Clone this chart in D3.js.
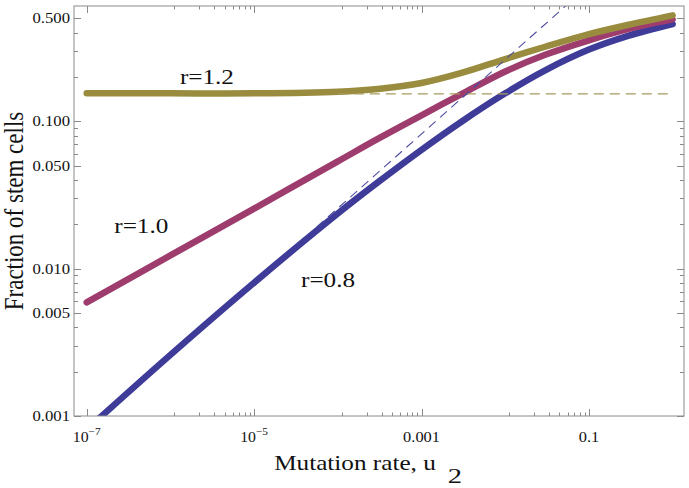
<!DOCTYPE html>
<html><head><meta charset="utf-8">
<script src="https://cdn.jsdelivr.net/npm/d3@7"></script>
<style>
html,body{margin:0;padding:0;background:#fff;}
text{font-family:"Liberation Serif","Times New Roman",Times,serif;fill:#111;}
</style></head>
<body><svg id="c" width="689" height="488"></svg>
<script>
// ---- data ----
const uVals = [1e-7, 1e-6, 1e-5, 1e-4, 3e-4, 1e-3, 3e-3, 1e-2, 3e-2, 0.1, 0.3, 1];
const r12 = [0.155, 0.155, 0.155, 0.159, 0.166, 0.182, 0.213, 0.265, 0.321, 0.391, 0.453, 0.524];
const r10 = [0.0059, 0.0123, 0.0256, 0.0535, 0.076, 0.110, 0.153, 0.218, 0.283, 0.355, 0.424, 0.492];
const r08 = [0.00081, 0.0026, 0.00804, 0.0237, 0.0385, 0.0641, 0.0995, 0.155, 0.222, 0.307, 0.382, 0.458];
const asymBlueU = [5.6e-5, 0.08];
const asymBlueF = [0.0192, 0.75];
const asymGoldU = [1.0e-4, 1];
const asymGoldF = [0.1535, 0.1535];
const seriesNames = ["r=0.8", "r=1.0", "r=1.2"];
const labelPosU = [7.64e-5, 4.49e-7, 2.73e-6];
const labelPosF = [0.00755, 0.0174, 0.179];
const xMajor = [1e-7, 1e-5, 1e-3, 0.1];
const xMajorLabels = [["10","−7"], ["10","−5"], ["0.001",""], ["0.1",""]];
const yMajor = [0.001, 0.005, 0.01, 0.05, 0.1, 0.5];
const yMajorLabels = ["0.001", "0.005", "0.010", "0.050", "0.100", "0.500"];
const xTitle = "Mutation rate, u";
const xTitleSub = "2";
const yTitle = "Fraction of stem cells";

// ---- layout ----
const L = 74, R = 684, T = 6, B = 416;
const svg = d3.select("#c");
const x = d3.scaleLog().domain([7.05e-8, 1.367]).range([L, R]);
const y = d3.scaleLog().domain([0.001, 0.607]).range([B, T]);
const colors = ["#3e3c98", "#9e3c6e", "#998c3e"];
const dashColors = ["#4c4ca0", "#a89a5c"];

svg.append("clipPath").attr("id", "clip").append("rect")
  .attr("x", L).attr("y", T).attr("width", R - L).attr("height", B - T);

const plot = svg.append("g").attr("clip-path", "url(#clip)");
const line = d3.line().x(d => x(d[0])).y(d => y(d[1])).curve(d3.curveCatmullRom.alpha(0.5));

[r08, r10, r12].forEach((vals, i) => {
  plot.append("path").datum(uVals.map((u, k) => [u, vals[k]]))
    .attr("d", line).attr("fill", "none").attr("stroke", colors[i])
    .attr("stroke-width", 6.5).attr("stroke-linecap", "round").attr("stroke-linejoin", "round");
});

plot.append("path").datum(asymGoldU.map((u, k) => [u, asymGoldF[k]]))
  .attr("d", d3.line().x(d => x(d[0])).y(d => y(d[1])))
  .attr("fill", "none").attr("stroke", dashColors[1]).attr("stroke-width", 1.2)
  .attr("stroke-dasharray", "10,6");
plot.append("path").datum(asymBlueU.map((u, k) => [u, asymBlueF[k]]))
  .attr("d", d3.line().x(d => x(d[0])).y(d => y(d[1])))
  .attr("fill", "none").attr("stroke", dashColors[0]).attr("stroke-width", 1.1)
  .attr("stroke-dasharray", "9,6");

// ---- frame & ticks ----
const frameCol = "#8a8a8a";
svg.append("rect").attr("x", L).attr("y", T).attr("width", R - L).attr("height", B - T)
  .attr("fill", "none").attr("stroke", frameCol).attr("stroke-width", 1);

const xMinor = [];
xMajor.slice(1).forEach(m => { for (let j = 1; j <= 8; j++) xMinor.push(m * j / 9); });
const yAll = [];
for (let e = -3; e <= -1; e++) for (let k = 1; k <= 9; k++) yAll.push(k * Math.pow(10, e));
const yMinor = yAll.filter(v => !yMajor.some(m => Math.abs(m - v) / m < 1e-6) && v < 0.6);

const tk = svg.append("g").attr("stroke", frameCol).attr("stroke-width", 1);
function xt(v, len) {
  const px = Math.round(x(v)) + 0.5;
  tk.append("line").attr("x1", px).attr("x2", px).attr("y1", B).attr("y2", B - len);
  tk.append("line").attr("x1", px).attr("x2", px).attr("y1", T).attr("y2", T + len);
}
function yt(v, len) {
  const py = Math.round(y(v)) + 0.5;
  tk.append("line").attr("x1", L).attr("x2", L + len).attr("y1", py).attr("y2", py);
  tk.append("line").attr("x1", R).attr("x2", R - len).attr("y1", py).attr("y2", py);
}
xMajor.forEach(v => xt(v, 7));
xMinor.forEach(v => xt(v, 3.5));
yMajor.forEach(v => yt(v, 7));
yMinor.forEach(v => yt(v, 4));

// ---- text ----
function txt(px, py, s, size, anchor, sx) {
  return svg.append("text")
    .attr("transform", `translate(${px},${py}) scale(${sx},1)`)
    .attr("text-anchor", anchor).attr("font-size", size).text(s);
}
yMajor.forEach((v, i) => txt(70, y(v) + 5, yMajorLabels[i], 14.5, "end", 1.15));
xMajor.forEach((v, i) => {
  const [base, sup] = xMajorLabels[i];
  const t = svg.append("text")
    .attr("transform", `translate(${x(v)},441.5) scale(1.13,1)`)
    .attr("text-anchor", "middle").attr("font-size", sup ? 14 : 14.5);
  t.append("tspan").text(base);
  if (sup) t.append("tspan").attr("font-size", 10).attr("dy", -7).text(sup);
});

seriesNames.forEach((s, i) => txt(x(labelPosU[i]), y(labelPosF[i]), s, 21, "middle", 1.2));

txt(355, 470, xTitle, 21, "middle", 1.2);
txt(455, 483.3, xTitleSub, 22, "middle", 1.3);
svg.append("text")
  .attr("transform", "translate(23,211) scale(1.15,1) rotate(-90)")
  .attr("text-anchor", "middle").attr("font-size", 23).text(yTitle);
</script></body></html>
